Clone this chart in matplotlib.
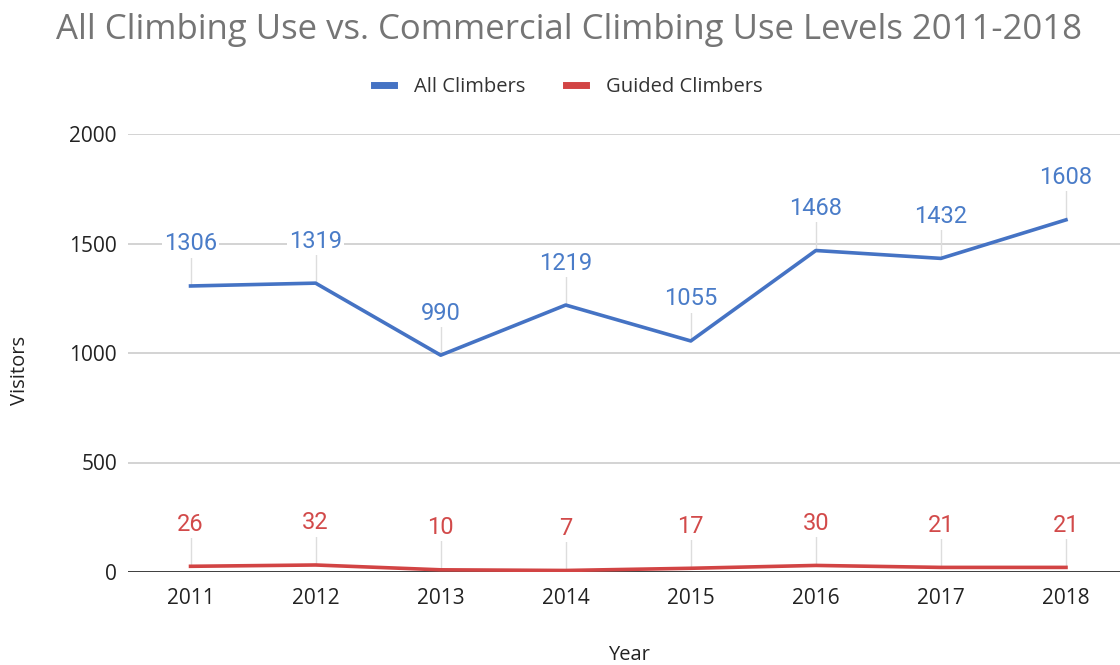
import matplotlib
matplotlib.use("Agg")
import matplotlib.pyplot as plt
from matplotlib.lines import Line2D

years = ["2011", "2012", "2013", "2014", "2015", "2016", "2017", "2018"]
all_climbers = [1306, 1319, 990, 1219, 1055, 1468, 1432, 1608]
guided_climbers = [26, 32, 10, 7, 17, 30, 21, 21]
yticks = [0, 500, 1000, 1500, 2000]

BLUE = "#4573c4"
RED = "#d24444"
BLUE_TXT = "#4a7cc8"
RED_TXT = "#d24a4a"

W, H = 1120, 665
fig = plt.figure(figsize=(W / 100, H / 100), dpi=100)
ax = fig.add_axes([128 / W, (H - 572) / H, (1120 - 128) / W, (572 - 134) / H])

x = list(range(len(years)))
ax.plot(x, all_climbers, color=BLUE, lw=2.6, solid_joinstyle="round", zorder=4)
ax.plot(x, guided_climbers, color=RED, lw=2.6, solid_joinstyle="round", zorder=4)

ax.set_xlim(-0.5, (1120 - 191) / 125)
ax.set_ylim(0, 2000)
ax.set_yticks(yticks)
ax.set_yticklabels([str(v) for v in yticks])
ax.set_xticks(x)
ax.set_xticklabels(years)
ax.grid(axis="y", color="#cccccc", lw=1.2, zorder=0)
ax.axhline(0, color="#333333", lw=1.3, zorder=3)
for s in ax.spines.values():
    s.set_visible(False)
ax.tick_params(axis="both", length=0, labelsize=15, labelcolor="#222222", labelfontfamily="Open Sans")
ax.tick_params(axis="x", pad=11.5)
ax.tick_params(axis="y", pad=8)

# data labels with leader lines
px_per_unit = (572 - 134) / 2000.0
off = 42 / px_per_unit
for series, col in ((all_climbers, BLUE_TXT), (guided_climbers, RED_TXT)):
    for xi, v in zip(x, series):
        ax.plot([xi, xi], [v, v + off - 11 / px_per_unit], color="#dddddd", lw=1, zorder=2)
        ax.text(xi, v + off, str(v), ha="center", va="center", fontsize=17,
                color=col, family="Roboto", zorder=5,
                bbox=dict(facecolor="white", edgecolor="none", pad=1.5))

fig.text(569 / W, 1 - 30 / H, "All Climbing Use vs. Commercial Climbing Use Levels 2011-2018",
         ha="center", va="center", fontsize=25, color="#757575", family="Open Sans")

fig.text(629 / W, 1 - 655 / H, "Year", ha="center", va="center", fontsize=14.5,
         color="#222222", family="Open Sans")
fig.text(20 / W, 1 - 370 / H, "Visitors", ha="center", va="center", fontsize=14.5,
         rotation=90, color="#222222", family="Open Sans")

handles = [Line2D([], [], color=BLUE, lw=5), Line2D([], [], color=RED, lw=5)]
fig.legend(handles, ["All Climbers", "Guided Climbers"], loc="center",
           bbox_to_anchor=(568 / W, 1 - 87 / H), ncol=2, frameon=False,
           handlelength=1.0, handletextpad=1.0, columnspacing=2.0,
           prop={"family": "Open Sans", "size": 14.5}, labelcolor="#333333")

fig.savefig("out.png", dpi=100)
